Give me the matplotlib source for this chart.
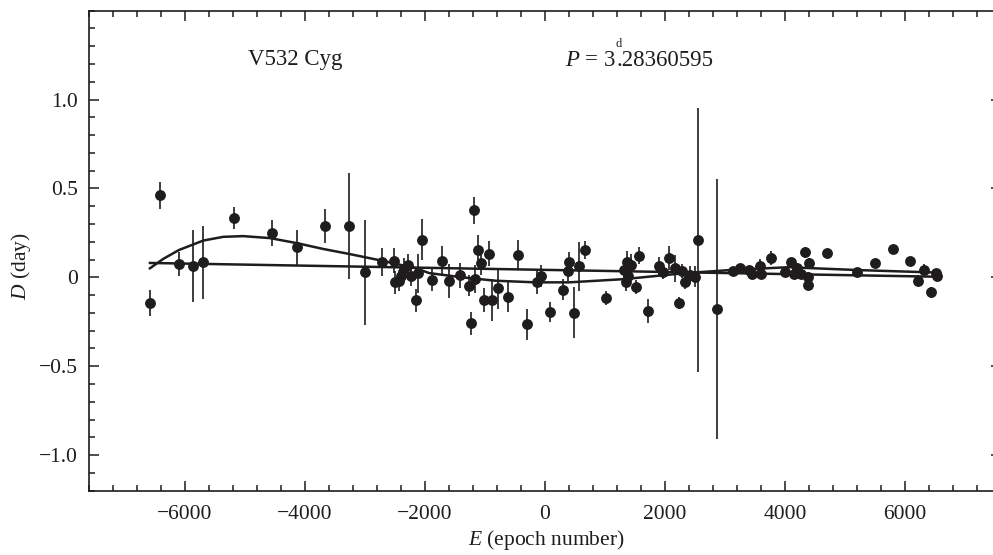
import numpy as np
import matplotlib.pyplot as plt
from matplotlib.ticker import MultipleLocator

plt.rcParams['font.family'] = ['Liberation Serif', 'DejaVu Serif']
plt.rcParams['mathtext.fontset'] = 'custom'
plt.rcParams['mathtext.rm'] = 'Liberation Serif'
plt.rcParams['mathtext.it'] = 'Liberation Serif:italic'

#DATA  (epoch, O-C in days, error)
E = [-6584, -6417, -6101, -5874, -5697, -5176, -4555, -4129, -3663, -3270,
     -2998, -2721, -2516, -2494, -2439, -2400, -2345, -2290, -2228, -2150,
     -2122, -2056, -1879, -1712, -1602, -1413, -1275, -1230, -1180, -1164,
     -1114, -1070, -1009, -936, -876, -776, -620, -449, -299, -133,
     -61, 78, 294, 377, 394, 482, 565, 660,
     1009, 1313, 1369, 1352, 1385, 1435, 1524, 1574, 1712, 1895,
     1962, 2062, 2173, 2228, 2284, 2339, 2422, 2494, 2555, 2860,
     3131, 3247, 3392, 3458, 3586, 3596, 3774,
     4001, 4094, 4151, 4206, 4267, 4334, 4400, 4389, 4384, 4705,
     5199, 5492, 5798, 6080, 6218, 6318, 6429, 6523, 6540]
D = [-0.145, 0.462, 0.075, 0.064, 0.085, 0.334, 0.250, 0.168, 0.288, 0.288,
     0.028, 0.085, 0.094, -0.028, -0.019, 0.009, 0.047, 0.070, 0.009, -0.130,
     0.023, 0.211, -0.015, 0.094, -0.021, 0.011, -0.047, -0.259, 0.377, -0.010,
     0.156, 0.081, -0.127, 0.134, -0.127, -0.062, -0.108, 0.128, -0.264, -0.025,
     0.007, -0.195, -0.070, 0.037, 0.085, -0.198, 0.062, 0.154,
     -0.115, 0.043, 0.088, -0.028, 0.009, 0.070, -0.053, 0.122, -0.189, 0.062,
     0.028, 0.109, 0.051, -0.145, 0.037, -0.028, 0.013, 0.004, 0.21, -0.179,
     0.037, 0.053, 0.043, 0.019, 0.066, 0.019, 0.109,
     0.028, 0.085, 0.019, 0.051, 0.019, 0.141, 0.081, 0.000, -0.042, 0.136,
     0.032, 0.079, 0.160, 0.094, -0.019, 0.043, -0.085, 0.024, 0.010]
err = [0.073, 0.077, 0.07, 0.205, 0.205, 0.064, 0.075, 0.10, 0.096, 0.30,
       0.296, 0.078, 0.07, 0.066, 0.06, 0.06, 0.06, 0.06, 0.06, 0.066,
       0.11, 0.115, 0.06, 0.085, 0.097, 0.072, 0.06, 0.066, 0.075, 0.078,
       0.082, 0.07, 0.068, 0.068, 0.116, 0.116, 0.085, 0.083, 0.087, 0.07,
       0.06, 0.057, 0.06, 0.06, 0.06, 0.141, 0.137, 0.05,
       0.04, 0.05, 0.06, 0.05, 0.05, 0.06, 0.04, 0.047, 0.066, 0.05,
       0.04, 0.07, 0.075, 0.035, 0.04, 0.04, 0.05, 0.06, 0.74, 0.73,
       0.02, 0.02, 0.02, 0.02, 0.04, 0.03, 0.04,
       0.02, 0.02, 0.02, 0.03, 0.02, 0.03, 0.03, 0.03, 0.03, 0.02,
       0.02, 0.02, 0.02, 0.02, 0.03, 0.03, 0.03, 0.02, 0.02]

# fitted curves
E_fit = [-6584, -6362, -6100, -5696, -5363, -5030, -4586, -4126, -3700, -3268,
         -2721, -2150, -1929, -1375, -821, -155, 404, 1313, 2339, 3171,
         4057, 5220, 6440]
D_fit = [0.051, 0.104, 0.154, 0.207, 0.228, 0.232, 0.221, 0.192, 0.160, 0.132,
         0.094, 0.051, 0.024, 0.000, -0.019, -0.028, -0.028, -0.010, 0.024, 0.043,
         0.057, 0.041, 0.028]
E_lin = [-6584, 6470]
D_lin = [0.081, 0.004]

col = '#1e1c1d'

fig = plt.figure(figsize=(9.93, 5.55), dpi=100)
ax = fig.add_axes([89/993, 1-490.7/555, 912/993, 480/555])

ax.errorbar(E, D, yerr=err, fmt='o', color=col, ms=6.8, elinewidth=1.2,
            capsize=0, zorder=3)
ax.plot(E_fit, D_fit, '-', color=col, lw=1.8, zorder=2)
ax.plot(E_lin, D_lin, '-', color=col, lw=1.8, zorder=2)

ax.set_xlim(-7600, 7600)
ax.set_ylim(-1.2, 1.5)

ax.set_xticks([-6000, -4000, -2000, 0, 2000, 4000, 6000])
ax.set_xticklabels(['\u22126000', '\u22124000', '\u22122000', '0', '2000', '4000', '6000'])
ax.xaxis.set_minor_locator(MultipleLocator(400))
ax.set_yticks([-1.0, -0.5, 0, 0.5, 1.0])
ax.set_yticklabels(['\u22121.0', '\u22120.5', '0', '0.5', '1.0'])
ax.yaxis.set_minor_locator(MultipleLocator(0.1))

ax.tick_params(which='both', direction='in', top=True, right=True,
               labelsize=15.5, color=col, labelcolor=col, width=1.1)
ax.tick_params(which='major', length=7.5)
ax.tick_params(which='minor', length=4.5)
ax.tick_params(axis='x', pad=10)
ax.tick_params(axis='y', pad=8)
for s in ax.spines.values():
    s.set_linewidth(1.2)
    s.set_color(col)

fig.text(546/993, 1-540/555, r'$E$ (epoch number)', ha='center', va='center',
         fontsize=15.5, color=col)
fig.text(21/993, 1-266/555, r'$D$ (day)', ha='center', va='center',
         rotation=90, fontsize=15.5, color=col)

fig.text(248/993, 1-60/555, 'V532 Cyg', ha='left', va='center',
         fontsize=16.5, color=col)
fig.text(565/993, 1-60/555, r'$P$ = 3', ha='left', va='center',
         fontsize=16.5, color=col)
fig.text(616/993, 1-60/555, '.28360595', ha='left', va='center',
         fontsize=16.5, color=col)
fig.text(619/993, 1-44/555, 'd', ha='center', va='center',
         fontsize=9, color=col)

plt.savefig('out.png', dpi=100)
